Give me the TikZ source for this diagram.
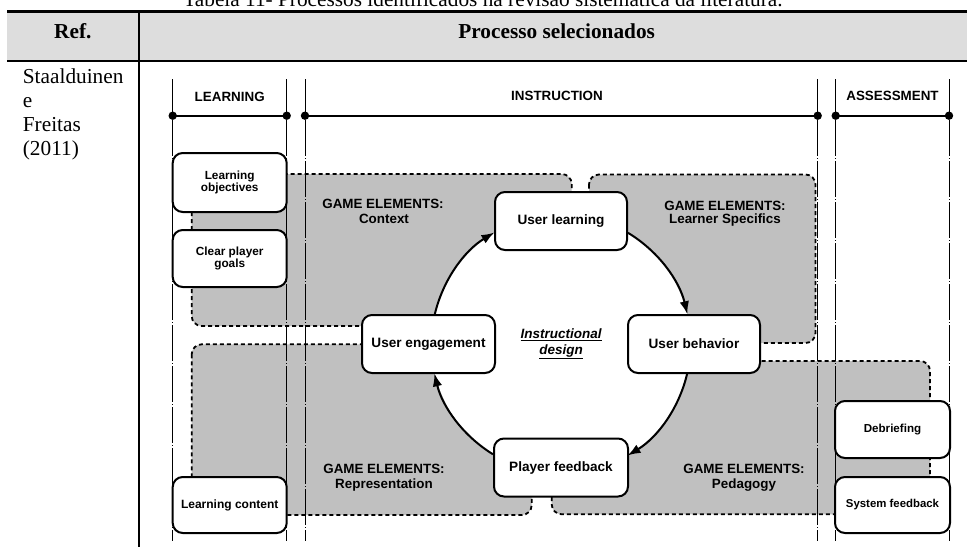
\documentclass[tikz,border=0pt]{standalone}
\usepackage{fontspec}
\setmainfont{Liberation Serif}
\setsansfont{Liberation Sans}
\usetikzlibrary{arrows.meta}

\definecolor{headgray}{RGB}{221,221,221}
\definecolor{zonegray}{RGB}{192,192,192}

% bold sans at a given size and line skip
\newcommand{\sfbold}[2]{\sffamily\bfseries\fontsize{#1}{#2}\selectfont}

\tikzset{
  tabletext/.style={inner sep=0pt, font=\fontsize{21.3}{24}\selectfont},
  tablehead/.style={inner sep=0pt, font=\bfseries\fontsize{21.3}{24}\selectfont},
  phaseline/.style={line width=0.8pt, dash pattern=on 36pt off 2pt on 1pt off 2pt},
  phasebar/.style={line width=2.3pt},
  phaselabel/.style={inner sep=0pt, font=\sfbold{13.4}{15}},
  zone/.style={fill=zonegray, draw=black, line width=1.8pt, dash pattern=on 4pt off 3pt, rounded corners=10pt},
  zonelabel/.style={inner sep=0pt, anchor=base, font=\sfbold{13.4}{15}},
  stagebox/.style={draw=black, fill=white, line width=2pt, rounded corners=10pt,
    align=center, inner sep=0pt, font=\sfbold{13.6}{15}},
  sidebox/.style={stagebox, font=\sfbold{11.8}{12.8}},
  cycle/.style={line width=2pt, -{Latex[length=13pt,width=9.5pt]}},
}

\begin{document}
\begin{tikzpicture}[x=1pt,y=1pt]
\useasboundingbox (0,0) rectangle (967,-547);

% ---------- table frame ----------
\fill[headgray] (7.3,-12.5) rectangle (967,-60);
\draw[line width=3pt] (7.3,-11) -- (967,-11);
\draw[line width=2pt] (7.3,-61) -- (967,-61);
\draw[line width=2.2pt] (138.7,-11) -- (138.7,-547);

\node[tabletext, anchor=base] (caption) at (483,-6.5)
  {Tabela 11- Processos identificados na revisão sistemática da literatura.};
\node[tablehead, anchor=base] (refhead) at (72.8,-38.5) {Ref.};
\node[tablehead, anchor=base] (prochead) at (556.7,-38) {Processo selecionados};

\node[tabletext, anchor=base west] (auth1) at (22.7,-83) {Staalduinen};
\node[tabletext, anchor=base west] (auth2) at (22.7,-107) {e};
\node[tabletext, anchor=base west] (auth3) at (22.7,-131) {Freitas};
\node[tabletext, anchor=base west] (auth4) at (22.7,-155) {(2011)};

% ---------- game element zones ----------
\path[zone] (191.7,-174) rectangle (571.7,-326);
\path[zone] (589,-174.5) rectangle (815.5,-343);
\path[zone] (191.7,-344.3) rectangle (531.7,-515);
\path[zone] (551.7,-361) rectangle (930,-514.3);

% white core of the cycle
\coordinate (hub) at (561,-344);
\fill[white] (hub) circle (129.5);

\node[zonelabel] (ctxA) at (383,-208.3) {GAME ELEMENTS:};
\node[zonelabel] (ctxB) at (384,-223.3) {Context};
\node[zonelabel] (lrnA) at (725,-210) {GAME ELEMENTS:};
\node[zonelabel] (lrnB) at (725,-223.5) {Learner Specifics};
\node[zonelabel] (repA) at (384,-473.5) {GAME ELEMENTS:};
\node[zonelabel] (repB) at (384,-488.3) {Representation};
\node[zonelabel] (pedA) at (744,-473.5) {GAME ELEMENTS:};
\node[zonelabel] (pedB) at (744,-488.3) {Pedagogy};

% ---------- phase columns ----------
\coordinate (c1t) at (172.7,-79);  \coordinate (c1b) at (172.7,-541);
\coordinate (c2t) at (286.7,-79);  \coordinate (c2b) at (286.7,-541);
\coordinate (c3t) at (305,-79);    \coordinate (c3b) at (305,-541);
\coordinate (c4t) at (817.7,-79);  \coordinate (c4b) at (817.7,-541);
\coordinate (c5t) at (835.7,-79);  \coordinate (c5b) at (835.7,-541);
\coordinate (c6t) at (949,-79);    \coordinate (c6b) at (949,-541);
\foreach \i in {1,...,6} \draw[phaseline] (c\i t) -- (c\i b);

\coordinate (b1) at (172.7,-115.7); \coordinate (b2) at (286.7,-115.7);
\coordinate (b3) at (305,-115.7);   \coordinate (b4) at (817.7,-115.7);
\coordinate (b5) at (835.7,-115.7); \coordinate (b6) at (949,-115.7);
\draw[phasebar] (b1) -- (b2);
\draw[phasebar] (b3) -- (b4);
\draw[phasebar] (b5) -- (b6);
\foreach \i in {1,...,6} \fill (b\i) circle (4.2);

\node[phaselabel] (learning) at (229.7,-96.7) {LEARNING};
\node[phaselabel] (instruction) at (557,-95.5) {INSTRUCTION};
\node[phaselabel] (assessment) at (892.5,-95.5) {ASSESSMENT};

% ---------- side boxes ----------
\node[sidebox, minimum width=114, minimum height=59] (lobj) at (229.7,-182.5) {Learning\\objectives};
\node[sidebox, minimum width=114, minimum height=57] (goals) at (229.7,-258.5) {Clear player\\goals};
\node[sidebox, minimum width=114, minimum height=56, font=\sfbold{12}{13}] (lcont) at (229.7,-505) {Learning content};
\node[sidebox, minimum width=115, minimum height=57, font=\sfbold{11.6}{13}] (debrief) at (892.5,-429.5) {Debriefing};
\node[sidebox, minimum width=115, minimum height=56, font=\sfbold{11.4}{13}] (sysfb) at (892.5,-505) {System feedback};

% ---------- instructional cycle ----------
\node[stagebox, minimum width=132, minimum height=58] (ul) at (561,-221) {User learning};
\node[stagebox, minimum width=133, minimum height=58] (ue) at (428.5,-344) {User engagement};
\node[stagebox, minimum width=132, minimum height=58] (ub) at (694,-344) {User behavior};
\node[stagebox, minimum width=134, minimum height=58] (pf) at (561,-467.5) {Player feedback};

% arcs of radius 130 round the hub, each leaving one stage and reaching the next
\draw[cycle] (ue.78.7)  arc[start angle=166.7, end angle=121,   radius=130];
\draw[cycle] (ul.350)   arc[start angle=58.9,  end angle=13.3,  radius=130];
\draw[cycle] (ub.257.8) arc[start angle=-13.3, end angle=-59,   radius=130];
\draw[cycle] (pf.169.4) arc[start angle=238.5, end angle=193.3, radius=130];

\node[inner sep=0pt, align=center, font=\sffamily\bfseries\itshape\fontsize{13.5}{15.7}\selectfont]
  (idesign) at (hub) {\underline{Instructional}\\\underline{design}};
\end{tikzpicture}
\end{document}
